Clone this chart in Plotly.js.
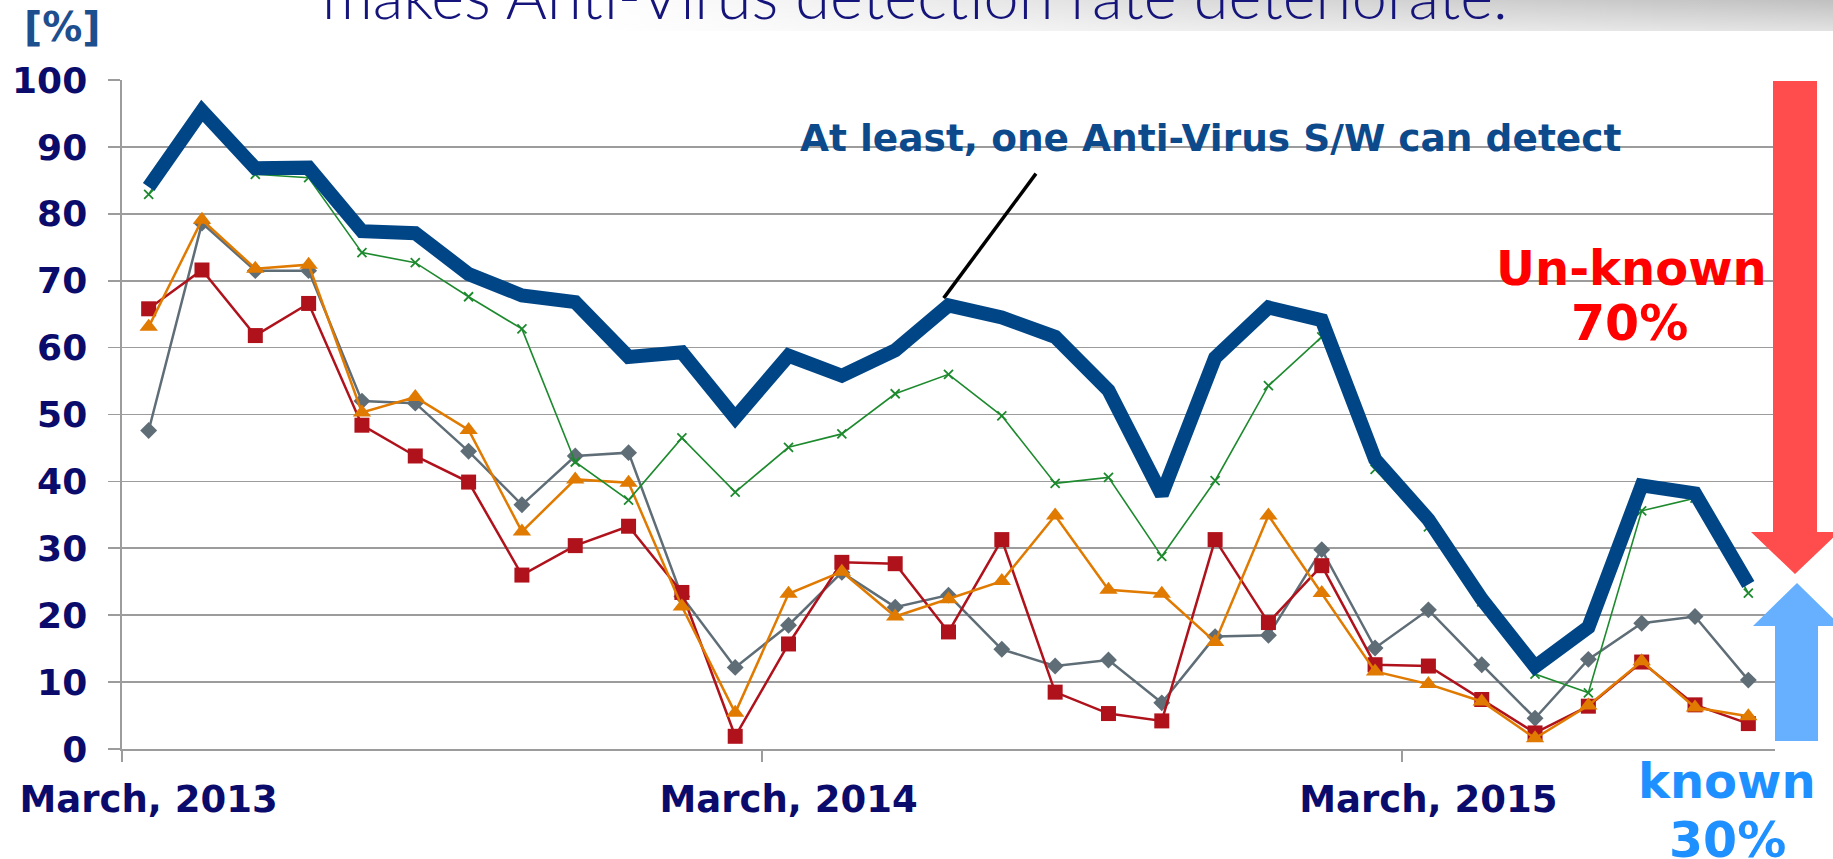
<!DOCTYPE html>
<html>
<head>
<meta charset="utf-8">
<script src="https://cdn.plot.ly/plotly-3.0.1.min.js"></script>
<style>
  html, body { margin: 0; padding: 0; background: #fff; }
  #plot { width: 1833px; height: 859px; }
</style>
</head>
<body>
<div id="plot"></div>
<script>
// months on the x axis (March 2013 .. September 2015)
var months = [
  "March, 2013", "April, 2013", "May, 2013", "June, 2013", "July, 2013",
  "August, 2013", "September, 2013", "October, 2013", "November, 2013", "December, 2013",
  "January, 2014", "February, 2014", "March, 2014", "April, 2014", "May, 2014",
  "June, 2014", "July, 2014", "August, 2014", "September, 2014", "October, 2014",
  "November, 2014", "December, 2014", "January, 2015", "February, 2015", "March, 2015",
  "April, 2015", "May, 2015", "June, 2015", "July, 2015", "August, 2015", "September, 2015"
];
var shownMonths = ["March, 2013", "March, 2014", "March, 2015"];

// detection rate [%]
var atLeastOne = [84, 95.4, 86.8, 86.9, 77.4, 77.1, 71, 67.8, 66.8, 58.6, 59.3, 49.5, 58.8, 55.8, 59.6, 66.3,
                  64.5, 61.6, 53.6, 38, 58.5, 66, 64.1, 43.3, 34.3, 22.4, 12.3, 18.2, 39.4, 38.2, 24.6];
var avGreen = [82.9, 95, 85.9, 85.4, 74.2, 72.7, 67.6, 62.8, 42.9, 37.2, 46.5, 38.4, 45.1, 47.1, 53.1, 56,
               49.8, 39.7, 40.6, 28.8, 40.1, 54.3, 61.6, 41.8, 33.2, 22, 11.2, 8.4, 35.6, 37.5, 23.3];
var avGray = [47.6, 78.6, 71.5, 71.5, 52, 51.7, 44.5, 36.5, 43.8, 44.3, 22.8, 12.2, 18.5, 26.4, 21.2, 23,
              14.9, 12.4, 13.3, 6.9, 16.8, 17, 29.8, 15.1, 20.8, 12.6, 4.6, 13.4, 18.8, 19.8, 10.3];
var avRed = [65.8, 71.6, 61.8, 66.6, 48.4, 43.8, 39.9, 26, 30.4, 33.3, 23.4, 1.9, 15.7, 27.9, 27.7, 17.5,
             31.3, 8.5, 5.3, 4.2, 31.3, 18.9, 27.4, 12.6, 12.4, 7.4, 2.4, 6.4, 13, 6.6, 3.8];
var avOrange = [63.1, 79.1, 71.8, 72.4, 50.3, 52.6, 47.7, 32.5, 40.3, 39.8, 21.3, 5.4, 23.2, 26.5, 19.8, 22.4,
                25.1, 34.9, 23.8, 23.2, 16, 34.9, 23.3, 11.6, 9.7, 7.1, 1.6, 6.5, 13.1, 6.2, 4.9];

var navy = "#0b0b6c";
var grid = "#9c9c9c";

// page geometry, used to place the slide decorations
var M = {l: 122, r: 58, t: 80, b: 110};
var W = 1833 - M.l - M.r, H = 859 - M.t - M.b;
function px(x) { return (x - M.l) / W; }
function py(y) { return (859 - M.b - y) / H; }
function poly(pts) {
  return "M" + pts.map(function (p) { return px(p[0]) + "," + py(p[1]); }).join(" L") + " Z";
}

var traceGray = {
  x: months, y: avGray, mode: "lines+markers", type: "scatter", name: "AV 1",
  line: {color: "#5f6d77", width: 2.5},
  marker: {symbol: "diamond", size: 13, color: "#5f6d77"}
};
var traceRed = {
  x: months, y: avRed, mode: "lines+markers", type: "scatter", name: "AV 2",
  line: {color: "#b0121c", width: 2.5},
  marker: {symbol: "square", size: 15, color: "#b0121c"}
};
var traceOrange = {
  x: months, y: avOrange, mode: "lines+markers", type: "scatter", name: "AV 3",
  line: {color: "#e07a00", width: 2.5},
  marker: {symbol: "triangle-up", size: 16, color: "#e07a00"}
};
var traceGreen = {
  x: months, y: avGreen, mode: "lines+markers", type: "scatter", name: "AV 4",
  line: {color: "#1d8a2e", width: 1.6},
  marker: {symbol: "x-thin", size: 9, color: "#1d8a2e", line: {color: "#1d8a2e", width: 1.8}}
};
var traceBlue = {
  x: months, y: atLeastOne, mode: "lines", type: "scatter", name: "At least one",
  line: {color: "#004687", width: 14}
};
// empty trace so the boundary tick axis gets drawn
var traceTicks = {x: [], y: [], xaxis: "x2", yaxis: "y", type: "scatter", showlegend: false, hoverinfo: "skip"};

var data = [traceGray, traceRed, traceOrange, traceGreen, traceBlue, traceTicks];

var bandSvg = "<svg xmlns='http://www.w3.org/2000/svg' width='1200' height='32' viewBox='0 0 1200 32' preserveAspectRatio='none'>" +
  "<defs><linearGradient id='h' x1='0' x2='1' y1='0' y2='0'><stop offset='0' stop-color='#ffffff'/>" +
  "<stop offset='0.5' stop-color='#dadada'/><stop offset='1' stop-color='#c0c0c0'/></linearGradient>" +
  "<linearGradient id='v' x1='0' x2='0' y1='0' y2='1'><stop offset='0' stop-color='#fff' stop-opacity='0'/>" +
  "<stop offset='1' stop-color='#fff' stop-opacity='0.55'/></linearGradient></defs>" +
  "<rect width='1200' height='32' fill='url(#h)'/><rect width='1200' height='32' fill='url(#v)'/></svg>";

var bold = function (size, color) {
  return {family: "DejaVu Sans, Verdana, sans-serif", size: size, color: color, weight: "bold"};
};

var layout = {
  width: 1833, height: 859,
  margin: M,
  paper_bgcolor: "#ffffff", plot_bgcolor: "#ffffff",
  showlegend: false,
  xaxis: {
    type: "category", range: [-0.5, 30.5],
    tickmode: "array", tickvals: shownMonths, ticktext: shownMonths,
    ticks: "", showgrid: false, zeroline: false,
    showline: true, linecolor: grid, linewidth: 1.6,
    tickfont: bold(37, navy), ticklabelstandoff: 17
  },
  xaxis2: {
    overlaying: "x", anchor: "y", side: "bottom", type: "linear", range: [-0.5, 30.5],
    tickmode: "array", tickvals: [-0.5, 11.5, 23.5],
    ticks: "outside", ticklen: 12, tickwidth: 1.6, tickcolor: grid,
    showticklabels: false, showgrid: false, zeroline: false, showline: false
  },
  yaxis: {
    range: [0, 100], tickmode: "linear", tick0: 0, dtick: 10,
    showgrid: true, gridcolor: grid, gridwidth: 1.6, zeroline: false,
    showline: true, linecolor: grid, linewidth: 1.6,
    ticks: "outside", ticklen: 12, tickwidth: 1.6, tickcolor: grid,
    tickfont: bold(36, navy), ticklabelstandoff: 14
  },
  images: [{
    source: "data:image/svg+xml;charset=utf-8," + encodeURIComponent(bandSvg),
    xref: "paper", yref: "paper", x: px(600), y: py(0), sizex: 1233 / W, sizey: 31 / H,
    xanchor: "left", yanchor: "top", sizing: "stretch", layer: "below"
  }],
  shapes: [
    // white box behind the callout text, hides the 90 gridline
    {type: "rect", xref: "paper", yref: "paper", x0: px(792), x1: 1, y0: py(156), y1: py(120),
     fillcolor: "#ffffff", line: {width: 0}, layer: "between"},
    // callout leader line
    {type: "line", xref: "x", yref: "y", x0: 16.64, y0: 86, x1: 14.91, y1: 67.4,
     line: {color: "#000000", width: 3.5}},
    // red arrow (un-known)
    {type: "path", xref: "paper", yref: "paper",
     path: poly([[1773, 81], [1817, 81], [1817, 532], [1839, 532], [1795, 574], [1751, 532], [1773, 532]]),
     fillcolor: "#ff4c4c", line: {width: 0}},
    // blue arrow (known)
    {type: "path", xref: "paper", yref: "paper",
     path: poly([[1775, 741], [1818, 741], [1818, 626], [1841, 626], [1797, 583], [1753, 626], [1775, 626]]),
     fillcolor: "#66b0ff", line: {width: 0}}
  ],
  annotations: [
    {text: "makes Anti-Virus detection rate deteriorate.", xref: "paper", yref: "paper",
     x: px(320), y: py(34), xanchor: "left", yanchor: "bottom", showarrow: false,
     font: {family: "Lato, Open Sans, sans-serif", size: 63, color: "#14147a", weight: 300}},
    {text: "[%]", xref: "paper", yref: "paper", x: px(62), y: py(27), xanchor: "center", yanchor: "middle",
     showarrow: false, font: bold(40, "#1d4e8e")},
    {text: "At least, one Anti-Virus S/W can detect", xref: "paper", yref: "paper",
     x: px(1210), y: py(138), xanchor: "center", yanchor: "middle", showarrow: false,
     font: bold(37.5, "#0d4a8c")},
    {text: "Un-known", xref: "paper", yref: "paper", x: px(1631), y: py(268), xanchor: "center", yanchor: "middle",
     showarrow: false, font: bold(48, "#ff0000")},
    {text: "70%", xref: "paper", yref: "paper", x: px(1629), y: py(323), xanchor: "center", yanchor: "middle",
     showarrow: false, font: bold(49, "#ff0000")},
    {text: "known", xref: "paper", yref: "paper", x: px(1727), y: py(781), xanchor: "center", yanchor: "middle",
     showarrow: false, font: bold(48, "#1e90ff")},
    {text: "30%", xref: "paper", yref: "paper", x: px(1727), y: py(840), xanchor: "center", yanchor: "middle",
     showarrow: false, font: bold(49, "#1e90ff")}
  ]
};

Plotly.newPlot("plot", data, layout, {staticPlot: true});
</script>
</body>
</html>
